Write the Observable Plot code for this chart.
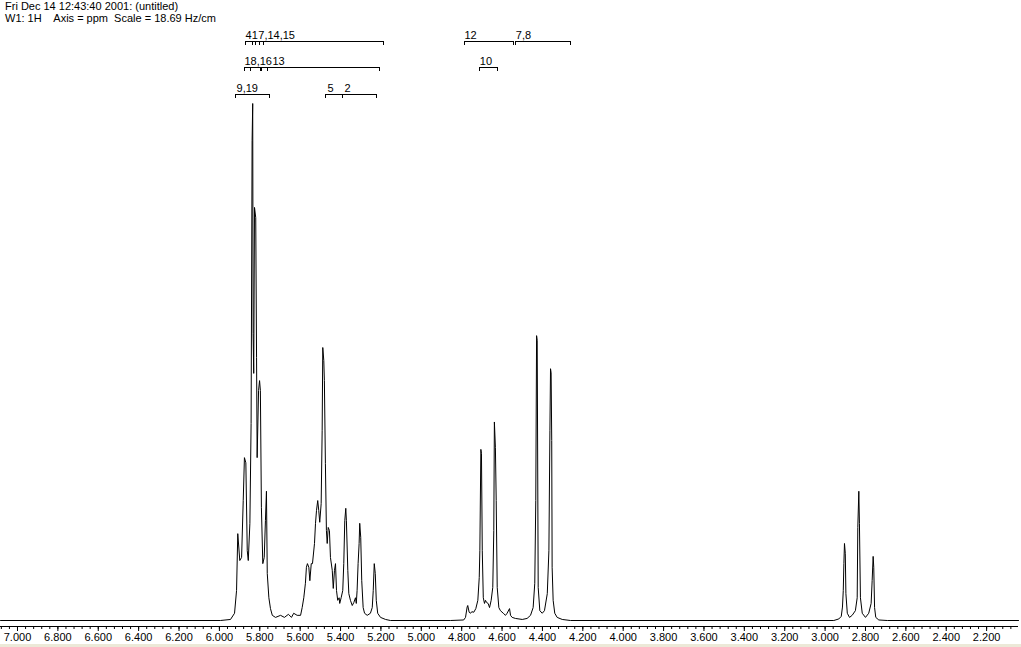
<!DOCTYPE html>
<html>
<head>
<meta charset="utf-8">
<script src="https://cdn.jsdelivr.net/npm/d3@7"></script>
<script src="https://cdn.jsdelivr.net/npm/@observablehq/plot@0.6"></script>
<style>
  html, body { margin: 0; padding: 0; background: #ffffff; }
  #wrap { width: 1021px; height: 647px; overflow: hidden; position: relative; background: #fff; }
  #hdr { font-family: "Liberation Sans", Arial, sans-serif; font-size: 11px; line-height: 12px;
         white-space: pre; padding-left: 5px; height: 25px; color: #000; }
  #foot { height: 3px; background: #ece9d8; }
  svg { display: block; }
</style>
</head>
<body>
<div id="wrap">
  <div id="hdr"></div>
  <div id="chart"></div>
  <div id="foot"></div>
</div>
<script>
// ---- header text ----
const headerLines = [
  "Fri Dec 14 12:43:40 2001: (untitled)",
  "W1: 1H    Axis = ppm  Scale = 18.69 Hz/cm"
];

// ---- axis ----
const xDomain = [7.0842, 2.0421];             // ppm, reversed
const majorTicks = [7.0, 6.8, 6.6, 6.4, 6.2, 6.0, 5.8, 5.6, 5.4, 5.2, 5.0, 4.8, 4.6,
                    4.4, 4.2, 4.0, 3.8, 3.6, 3.4, 3.2, 3.0, 2.8, 2.6, 2.4, 2.2];
const minorStep = 0.04;

// ---- spectrum (ppm, relative intensity; tallest = 100) ----
const specPpm = [
 7.084,5.995,5.945,5.925,5.915,5.909,5.899,5.890,5.882,5.876,5.869,5.862,5.857,5.849,5.843,
 5.838,5.835,5.833,5.830,5.826,5.820,5.816,5.813,5.806,5.801,5.797,5.792,5.785,5.778,5.772,
 5.767,5.763,5.755,5.747,5.738,5.722,5.697,5.678,5.658,5.643,5.632,5.615,5.598,5.590,5.582,
 5.574,5.569,5.564,5.557,5.552,5.545,5.539,5.529,5.524,5.519,5.513,5.508,5.503,5.496,5.491,
 5.488,5.483,5.480,5.475,5.470,5.466,5.461,5.455,5.450,5.441,5.436,5.430,5.425,5.420,5.414,
 5.407,5.404,5.397,5.389,5.384,5.379,5.374,5.371,5.364,5.359,5.351,5.342,5.334,5.326,5.322,
 5.318,5.313,5.308,5.305,5.300,5.295,5.288,5.281,5.268,5.252,5.243,5.238,5.233,5.228,5.223,
 5.216,5.202,5.177,5.153,
 4.855,4.790,4.781,4.773,4.770,4.763,4.756,4.750,4.740,4.730,4.720,4.713,4.710,4.705,4.702,
 4.698,4.693,4.687,4.682,4.677,4.669,4.662,4.654,4.646,4.641,4.638,4.633,4.629,4.624,4.616,
 4.608,4.594,4.583,4.575,4.563,4.558,4.550,4.534,4.500,4.476,4.459,4.446,4.438,4.433,4.429,
 4.426,4.421,4.413,4.401,4.390,4.376,4.368,4.363,4.360,4.357,4.354,4.352,4.347,4.339,4.327,
 4.302,4.261,
 2.957,2.932,2.920,2.914,2.910,2.907,2.904,2.900,2.897,2.890,2.879,2.866,2.850,2.841,2.838,
 2.833,2.830,2.825,2.816,2.800,2.784,2.772,2.767,2.762,2.759,2.755,2.749,2.734,2.692,2.042
];
const specInt = [
 0,0,0.2,1.4,5.8,16.8,11.6,12.2,23.2,31.5,30.5,13.5,11.6,18.8,38.1,
 92.8,100,55.5,47.8,79.9,77.9,50.9,31.5,44.5,46.4,44.5,21.9,11.0,12.2,19.3,
 25.0,9.1,4.4,2.3,1.0,0.6,1.0,0.6,1.2,0.6,1.4,1.0,1.0,2.5,4.4,
 7.2,10.3,11.0,10.3,7.7,11.0,11.0,14.9,18.8,21.3,23.2,21.3,19.0,22.6,36.8,
 52.8,50.3,46.4,30.4,17.4,14.9,18.0,17.4,12.2,9.7,6.2,9.7,11.0,5.8,3.9,
 4.4,3.3,4.4,5.8,11.0,19.3,21.7,19.3,9.7,5.2,3.9,2.9,3.5,4.4,3.3,
 5.8,11.0,14.9,18.8,16.1,7.7,2.5,1.4,1.0,1.4,2.5,5.8,11.0,9.1,3.9,
 1.4,0.6,0.2,0,
 0,0.1,0.6,2.6,2.9,1.6,1.4,1.7,1.6,2.3,3.9,8.3,13.5,33.1,32.3,
 13.5,4.4,3.3,3.9,3.5,3.3,2.5,3.9,6.4,17.4,38.4,33.5,23.2,6.4,2.5,
 1.9,1.4,1.0,1.4,2.3,1.0,0.6,0.4,0.2,0.4,1.0,2.5,7.2,23.2,55.1,
 54.2,6.4,1.9,1.4,1.9,5.2,13.5,36.8,48.7,47.9,34.8,10.3,3.9,1.4,0.6,
 0.2,0,
 0,0.3,0.8,2.6,5.8,11.0,14.9,13.0,5.2,1.4,0.6,1.0,1.9,4.4,18.0,
 25.0,18.8,4.4,1.4,0.6,1.4,3.3,7.7,12.4,10.3,2.5,0.6,0.1,0,0
];

// ---- integral / assignment brackets (ppm ranges, row 0 = top) ----
const bracketFrom = [5.871,5.838,5.821,5.801,5.780, 4.786,4.532,
                     5.876,5.846,5.795,5.790,5.763, 4.710,
                     5.918, 5.473,5.389];
const bracketTo   = [5.838,5.821,5.801,5.780,5.189, 4.542,4.261,
                     5.846,5.795,5.790,5.763,5.206, 4.621,
                     5.750, 5.389,5.220];
const bracketRow  = [0,0,0,0,0, 0,0,
                     1,1,1,1,1, 1,
                     2, 2,2];
const labelText = ["4", "1", "7,14,15", "12", "7,8", "18,16", "13", "10", "9,19", "5", "2"];
const labelPpm  = [5.871, 5.8393, 5.8074, 4.786, 4.532, 5.876, 5.737, 4.710, 5.915, 5.465, 5.380];
const labelRow  = [0, 0, 0, 0, 0, 1, 1, 1, 2, 2, 2];

// ---- build ----
document.getElementById("hdr").textContent = headerLines.join("\n");

const yDomain = [-1.1605, 115.09];
const rowLevel = [112.0, 107.0, 101.8];
const tickLen = 0.8;

const spectrum = specPpm.map((p, i) => ({ppm: p, v: specInt[i]}));
const brackets = bracketFrom.map((f, i) => ({from: f, to: bracketTo[i], y: rowLevel[bracketRow[i]]}));
const bracketEnds = brackets.flatMap(b => [{x: b.from, y: b.y}, {x: b.to, y: b.y}]);
const labels = labelText.map((t, i) => ({text: t, x: labelPpm[i], y: rowLevel[labelRow[i]]}));
const minorTicks = d3.range(Math.round(xDomain[1] / minorStep) + 1, Math.round(xDomain[0] / minorStep) + 1)
  .map(k => +(k * minorStep).toFixed(2));

const chart = Plot.plot({
  width: 1021,
  height: 619,
  marginLeft: 0,
  marginRight: 3,
  marginTop: 0,
  marginBottom: 18,
  style: {fontFamily: "'Liberation Sans', Arial, sans-serif", fontSize: "11px", color: "#000", background: "#fff"},
  x: {domain: xDomain, label: null},
  y: {domain: yDomain, axis: null},
  marks: [
    Plot.ruleY([yDomain[0]], {stroke: "#000", strokeWidth: 1}),
    Plot.axisX(minorTicks, {anchor: "bottom", tickSize: 3, text: null, label: null, stroke: "#000", strokeOpacity: 1}),
    Plot.axisX(majorTicks, {anchor: "bottom", tickSize: 5, tickPadding: 2, tickFormat: d3.format(".3f"),
                            label: null, fontSize: 11, stroke: "#000", strokeOpacity: 1, fill: "#000"}),
    Plot.line(spectrum, {x: "ppm", y: "v", stroke: "#000", strokeWidth: 1, curve: "linear"}),
    Plot.ruleY(brackets, {y: "y", x1: "from", x2: "to", stroke: "#000", strokeWidth: 1, shapeRendering: "crispEdges"}),
    Plot.ruleX(bracketEnds, {x: "x", y1: "y", y2: d => d.y - tickLen, stroke: "#000", strokeWidth: 1, shapeRendering: "crispEdges"}),
    Plot.text(labels, {x: "x", y: "y", text: "text", textAnchor: "start", lineAnchor: "bottom", dy: -2, fontSize: 11, fill: "#000"})
  ]
});
document.getElementById("chart").appendChild(chart);
</script>
</body>
</html>
